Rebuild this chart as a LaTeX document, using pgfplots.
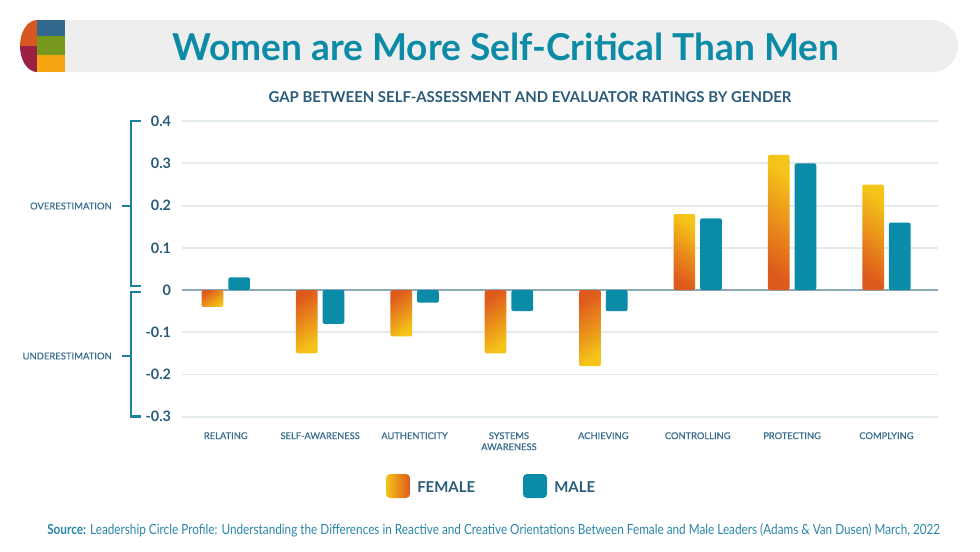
\documentclass[border=0pt]{standalone}
\usepackage{fontspec}
\setmainfont{Lato}
\newfontfamily\condfont[FakeStretch=0.84]{Lato}
\newfontfamily\medfont[FakeBold=0.7]{Lato}
\usepackage{pgfplots}
\pgfplotsset{compat=1.18}
\definecolor{tealc}{HTML}{0A8CA8}
\definecolor{titlec}{HTML}{0C8BA6}
\definecolor{navyc}{HTML}{2A5C7A}
\definecolor{labc}{HTML}{3A6E8E}
\definecolor{brackc}{HTML}{1C7FA3}
\definecolor{gridc}{HTML}{E4EBEF}
\definecolor{zeroc}{HTML}{8DA8B7}
\definecolor{femD}{HTML}{DE5A1C}
\definecolor{femL}{HTML}{F5C419}
\definecolor{barbg}{HTML}{EEEEEE}
\definecolor{lgA}{HTML}{D8561F}
\definecolor{lgB}{HTML}{9B2143}
\definecolor{lgC}{HTML}{33698C}
\definecolor{lgD}{HTML}{76981C}
\definecolor{lgE}{HTML}{F6A411}
\definecolor{srcc}{HTML}{2A86A8}
\tikzset{
  femneg/.style={draw=none, bar shift=-10pt, top color=femD, bottom color=femL, shading angle=35, rounded corners=1.5pt},
  fempos/.style={draw=none, bar shift=-10pt, top color=femL, bottom color=femD, shading angle=-35, rounded corners=1.5pt},
}
\begin{document}
\begin{tikzpicture}
\begin{scope}[x=0.75pt,y=-0.75pt]
\fill[white] (0,0) rectangle (980,551);
\path[use as bounding box] (0,0) rectangle (980,551);
% title bar
\fill[barbg, rounded corners=19.5pt] (30,20) rectangle (958,72);
\begin{scope}
\clip (37,46) ellipse [x radius=17, y radius=26];
\fill[lgA] (19,19) rectangle (37.5,46);
\fill[lgB] (19,46) rectangle (37.5,73);
\end{scope}
\fill[lgC] (37,20) rectangle (65,36);
\fill[lgD] (37,36) rectangle (65,55);
\fill[lgE] (37,55) rectangle (65,72);
\node[anchor=base, text=titlec, font=\fontsize{27.8}{30}\selectfont\bfseries, inner sep=0pt] at (506,60) {Women are More Self-Critical Than Men};
% subtitle
\node[anchor=base, text=navyc, font=\fontsize{11.2}{13}\selectfont\bfseries, inner sep=0pt] at (530,102) {GAP BETWEEN SELF-ASSESSMENT AND EVALUATOR RATINGS BY GENDER};
% brackets
\draw[brackc, line width=1.9pt] (141,121) -- (131,121) -- (131,286) -- (141,286);
\draw[brackc, line width=1.9pt] (121.5,206) -- (131,206);
\draw[brackc, line width=1.9pt] (141,292) -- (131,292) -- (131,416.7) -- (141,416.7);
\draw[brackc, line width=1.9pt] (121.5,356) -- (131,356);
\node[anchor=east, text=labc, font=\medfont\fontsize{7.1}{8}\selectfont, inner sep=0pt] at (112,206) {OVERESTIMATION};
\node[anchor=east, text=labc, font=\medfont\fontsize{7.1}{8}\selectfont, inner sep=0pt] at (112,356) {UNDERESTIMATION};
% legend
\shade[left color=femL, right color=femD, rounded corners=3pt] (386,474) rectangle (410,498);
\fill[tealc, rounded corners=3pt] (523,474) rectangle (547,498);
\node[anchor=base west, text=navyc, font=\fontsize{11.2}{13}\selectfont\bfseries, inner sep=0pt] at (417,492) {FEMALE};
\node[anchor=base west, text=navyc, font=\fontsize{11.2}{13}\selectfont\bfseries, inner sep=0pt] at (554,492) {MALE};
% source
\node[anchor=base west, text=srcc, font=\condfont\fontsize{10.5}{12}\selectfont, inner sep=0pt] at (47,534) {\textbf{Source:} Leadership Circle Profile: Understanding the Differences in Reactive and Creative Orientations Between Female and Male Leaders (Adams \& Van Dusen) March, 2022};
\end{scope}
\begin{axis}[
  at={(136.5pt,-312.5pt)}, anchor=south west,
  scale only axis, width=567.2pt, height=221.6pt,
  xmin=-0.464, xmax=7.549, ymin=-0.3, ymax=0.4,
  axis line style={draw=none},
  major tick length=0pt,
  ytick={-0.3,-0.2,-0.1,0,0.1,0.2,0.3,0.4},
  yticklabels={{-0.3},{-0.2},{-0.1},{0},{0.1},{0.2},{0.3},{0.4}},
  xtick={0,1,2,3,4,5,6,7},
  xticklabels={RELATING,SELF-AWARENESS,AUTHENTICITY,{SYSTEMS\\AWARENESS},ACHIEVING,CONTROLLING,PROTECTING,COMPLYING},
  ymajorgrids, grid style={draw=gridc, line width=1.4pt},
  extra y ticks={0}, extra y tick labels={},
  extra y tick style={grid style={draw=zeroc, line width=1.1pt}},
  yticklabel style={font=\fontsize{10.8}{12}\selectfont\bfseries, text=navyc, inner sep=0pt, xshift=-8pt},
  xticklabel style={font=\medfont\fontsize{7.0}{8.3}\selectfont, text=labc, align=center, inner sep=0pt, yshift=-11.5pt},
  ybar, bar width=16.3pt,
  clip=false,
]
% Female (one plot per bar so each bar gets its own gradient)
\addplot[femneg] coordinates {(0,-0.04)};
\addplot[femneg] coordinates {(1,-0.15)};
\addplot[femneg] coordinates {(2,-0.11)};
\addplot[femneg] coordinates {(3,-0.15)};
\addplot[femneg] coordinates {(4,-0.18)};
\addplot[fempos] coordinates {(5,0.18)};
\addplot[fempos] coordinates {(6,0.32)};
\addplot[fempos] coordinates {(7,0.25)};
% Male
\addplot[draw=none, fill=tealc, bar shift=10pt, rounded corners=1.5pt]
  coordinates {(0,0.03) (1,-0.08) (2,-0.03) (3,-0.05) (4,-0.05) (5,0.17) (6,0.30) (7,0.16)};
\end{axis}
\end{tikzpicture}
\end{document}
